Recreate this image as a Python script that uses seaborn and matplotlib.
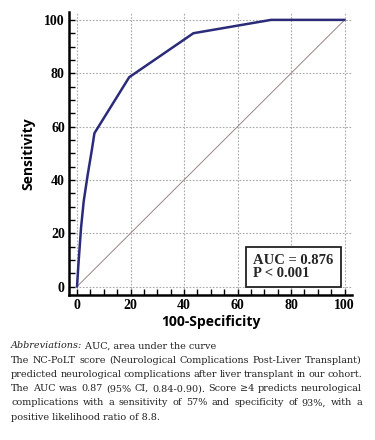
import matplotlib
matplotlib.use("Agg")
import matplotlib.pyplot as plt
import seaborn as sns
import pandas as pd
import numpy as np
from matplotlib.ticker import MultipleLocator

# ---- data ----
fpr = [0, 0.5, 1.5, 2.5, 4.0, 5.5, 6.5, 19.5, 43.5, 72.5, 100]
tpr = [0, 8, 22, 32, 42, 51, 57.5, 78.5, 95, 100, 100]
diag_x = [0, 100]
diag_y = [0, 100]
ticks = [0, 20, 40, 60, 80, 100]
auc_text = "AUC = 0.876\nP < 0.001"
x_label = "100-Specificity"
y_label = "Sensitivity"
caption_first = ("Abbreviations:", " AUC, area under the curve")
caption_lines = [
    "The NC-PoLT score (Neurological Complications Post-Liver Transplant)",
    "predicted neurological complications after liver transplant in our cohort.",
    "The AUC was 0.87 (95% CI, 0.84-0.90). Score \u22654 predicts neurological",
    "complications with a sensitivity of 57% and specificity of 93%, with a",
    "positive likelihood ratio of 8.8.",
]

sns.set_theme(style="white")
plt.rcParams["font.family"] = ["Liberation Serif", "DejaVu Serif"]

fig = plt.figure(figsize=(3.75, 4.4), dpi=100)
ax = fig.add_axes([0.184, 0.330, 0.755, 0.643])

roc = pd.DataFrame({"fpr": fpr, "tpr": tpr})
diag = pd.DataFrame({"x": diag_x, "y": diag_y})
sns.lineplot(data=diag, x="x", y="y", ax=ax, color="#9a8585", lw=0.7, sort=False)
sns.lineplot(data=roc, x="fpr", y="tpr", ax=ax, color="#2b2b7a", lw=1.8, sort=False)

ax.set_xlim(-3, 102.8)
ax.set_ylim(-3.1, 103)
ax.set_xticks(ticks)
ax.set_yticks(ticks)
ax.xaxis.set_minor_locator(MultipleLocator(5))
ax.yaxis.set_minor_locator(MultipleLocator(5))
ax.grid(True, which="major", color="#a8a8a8", linestyle=(0, (1.5, 1.5)), lw=0.8)
for s in ["top", "right"]:
    ax.spines[s].set_visible(False)
for s in ["left", "bottom"]:
    ax.spines[s].set_color("black")
    ax.spines[s].set_linewidth(1.8)
ax.tick_params(which="both", direction="in", color="black", width=1,
               left=True, bottom=True)
ax.tick_params(which="major", length=4.5, labelsize=10, pad=3, labelcolor="black")
ax.tick_params(which="minor", length=4)
for lab in ax.get_xticklabels() + ax.get_yticklabels():
    lab.set_fontweight("bold")
    lab.set_family(["Liberation Serif"])

ax.set_xlabel(x_label, family=["Open Sans", "DejaVu Sans"], fontweight="bold",
              fontsize=10, labelpad=2, color="black")
ax.set_ylabel(y_label, family=["Open Sans", "DejaVu Sans"], fontweight="bold",
              fontsize=10, labelpad=6, color="black")

ax.text(0.935, 0.052, auc_text, transform=ax.transAxes, ha="right", va="bottom",
        multialignment="left",
        fontsize=10.5, fontweight="bold", family=["Liberation Serif"],
        linespacing=1.0,
        bbox=dict(boxstyle="square,pad=0.5", fc="white", ec="#222222", lw=1.3))

# ---- caption ----
fig.canvas.draw()
renderer = fig.canvas.get_renderer()
W, H = fig.get_size_inches() * fig.dpi
cap_font = dict(family=["DejaVu Serif"], fontsize=6.9, color="#222222")
x0, x1 = 11, 362
y_first = 346
dy = 14.2

def px_width(t):
    bb = t.get_window_extent(renderer)
    return bb.width

t = fig.text(x0 / W, 1 - y_first / H, caption_first[0], va="center", ha="left",
             style="italic", **cap_font)
w = px_width(t)
fig.text((x0 + w) / W, 1 - y_first / H, caption_first[1], va="center", ha="left", **cap_font)

for i, line in enumerate(caption_lines):
    y = y_first + dy * (i + 1)
    if i == len(caption_lines) - 1:
        fig.text(x0 / W, 1 - y / H, line, va="center", ha="left", **cap_font)
        continue
    words = line.split(" ")
    texts = [fig.text(0, 1 - y / H, wd, va="center", ha="left", **cap_font) for wd in words]
    widths = [px_width(tt) for tt in texts]
    gap = (x1 - x0 - sum(widths)) / (len(words) - 1)
    x = x0
    for tt, wd in zip(texts, widths):
        tt.set_x(x / W)
        x += wd + gap

fig.savefig("out.png", dpi=100)
